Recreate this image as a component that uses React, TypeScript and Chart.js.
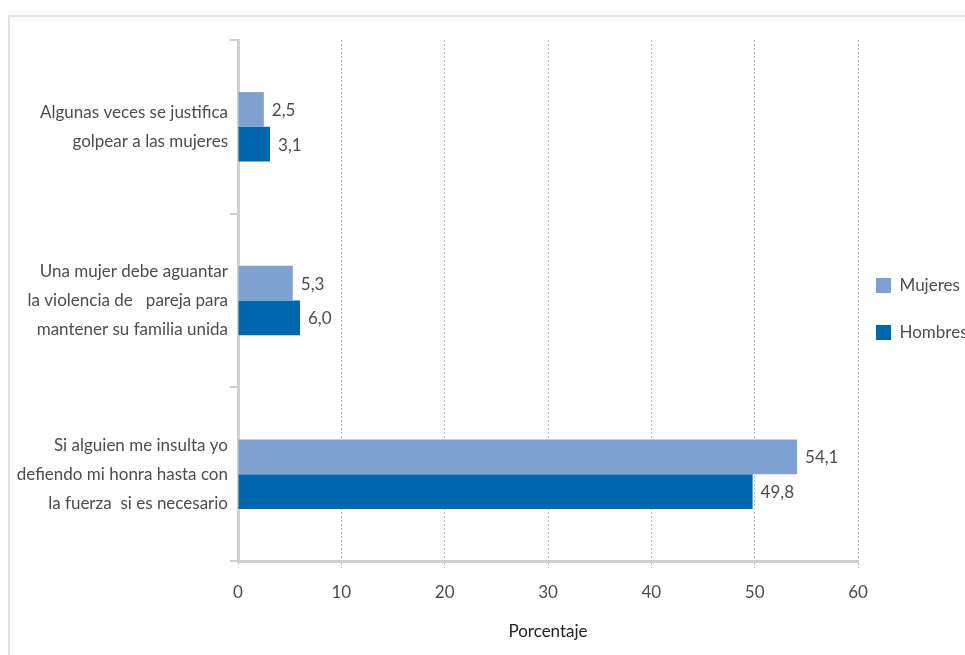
import React, { useEffect, useRef } from "react";
import { Chart, registerables } from "chart.js";

Chart.register(...registerables);

const categories: string[][] = [
  ["Algunas veces se justifica", "golpear a las mujeres"],
  ["Una mujer debe aguantar", "la violencia de   pareja para", "mantener su familia unida"],
  ["Si alguien me insulta yo", "defiendo mi honra hasta con", "la fuerza  si es necesario"],
];
const seriesNames = ["Mujeres", "Hombres"];
const mujeres = [2.5, 5.3, 54.1];
const hombres = [3.1, 6.0, 49.8];
const xTicks = [0, 10, 20, 30, 40, 50, 60];
const axisTitle = "Porcentaje";

const TEXT = "#4d4d4d";

const FONT_CANDIDATES = [
  { family: '"Liberation Sans Narrow"', weight: "normal" },
  { family: '"DejaVu Sans Condensed"', weight: "normal" },
  { family: '"DejaVu Sans"', weight: "condensed" },
  { family: '"Noto Sans"', weight: "condensed" },
  { family: "Roboto", weight: "normal" },
  { family: '"Noto Sans"', weight: "normal" },
  { family: "Lato", weight: "normal" },
];

// pick the narrowest available face and a size that gives the reference text width
function pickFont() {
  const ctx = document.createElement("canvas").getContext("2d") as CanvasRenderingContext2D;
  const sample = "Algunas veces se justifica";
  let best = { family: "sans-serif", weight: "normal", size: 16 };
  for (const c of FONT_CANDIDATES) {
    ctx.font = `${c.weight} 100px ${c.family}, sans-serif`;
    const w = ctx.measureText(sample).width;
    const size = Math.min(21, (186 / w) * 100);
    if (size > best.size) best = { family: `${c.family}, sans-serif`, weight: c.weight, size };
  }
  best.size = Math.round(best.size * 2) / 2;
  return best;
}

const fmt = (v: number) => v.toFixed(1).replace(".", ",");

export default function App() {
  const ref = useRef<HTMLCanvasElement>(null);
  useEffect(() => {
    document.body.style.margin = "0";
    const F = pickFont();
    const font = (extra: any = {}) => ({ family: F.family, weight: F.weight, size: F.size, ...extra });

    const valueLabels = {
      id: "valueLabels",
      afterDatasetsDraw(chart: any) {
        const ctx = chart.ctx;
        ctx.save();
        ctx.font = `${F.weight} ${F.size}px ${F.family}`;
        ctx.fillStyle = TEXT;
        ctx.textBaseline = "middle";
        ctx.textAlign = "left";
        chart.data.datasets.forEach((ds: any, di: number) => {
          chart.getDatasetMeta(di).data.forEach((el: any, i: number) => {
            ctx.fillText(fmt(ds.data[i]), el.x + 8, el.y + 1);
          });
        });
        ctx.restore();
      },
    };

    const chart = new Chart(ref.current as HTMLCanvasElement, {
      type: "bar",
      data: {
        labels: categories,
        datasets: [
          {
            label: seriesNames[0],
            data: mujeres,
            backgroundColor: "#7fa1cf",
            borderWidth: 0,
            categoryPercentage: 0.4,
            barPercentage: 1,
          },
          {
            label: seriesNames[1],
            data: hombres,
            backgroundColor: "#0067ac",
            borderWidth: 0,
            categoryPercentage: 0.4,
            barPercentage: 1,
          },
        ],
      },
      options: {
        indexAxis: "y",
        responsive: false,
        animation: false,
        layout: { padding: { top: 23, left: 0, right: 0, bottom: 0 } },
        scales: {
          x: {
            min: 0,
            max: 60,
            afterBuildTicks: (s: any) => {
              s.ticks = xTicks.map((v) => ({ value: v }));
            },
            afterFit: (s: any) => {
              s.height = 94;
            },
            ticks: { font: font(), color: TEXT, padding: 14 },
            grid: {
              color: (c: any) => (c.index === 0 ? "rgba(0,0,0,0)" : "#b8b8b8"),
              lineWidth: 1,
              drawTicks: true,
              tickLength: 7,
              tickColor: (c: any) => (c.index === 0 ? "#d0d0d0" : "#b8b8b8"),
              tickBorderDash: [2, 2],
            },
            border: { display: true, color: "#d0d0d0", width: 3, dash: [2, 2] },
            title: {
              display: true,
              text: axisTitle,
              font: font(),
              color: "#222",
              padding: { top: 0, bottom: 13 },
            },
          },
          y: {
            afterFit: (s: any) => {
              s.width = 228;
              s.paddingTop = 0;
              s.paddingBottom = 0;
            },
            grid: {
              offset: true,
              drawOnChartArea: false,
              drawTicks: true,
              tickLength: 8,
              color: "#d0d0d0",
              lineWidth: 2,
            },
            border: { display: true, color: "#d0d0d0", width: 3 },
            ticks: { font: font({ lineHeight: "29px" }), color: TEXT, padding: 2 },
          },
        },
        plugins: {
          legend: {
            position: "right",
            fullSize: false,
            maxWidth: 107,
            title: { display: true, text: " ", font: { size: 10, lineHeight: 1.2 }, padding: { top: 1, bottom: 16 } },
            labels: {
              boxWidth: 15,
              boxHeight: 15,
              padding: 18,
              font: font({ lineHeight: "29px" }),
              color: TEXT,
              generateLabels: (c: any) =>
                Chart.defaults.plugins.legend.labels
                  .generateLabels(c)
                  .map((l: any) => ({ ...l, text: [l.text] })),
            },
          },
          tooltip: { enabled: false },
        },
      },
      plugins: [valueLabels],
    } as any);
    return () => chart.destroy();
  }, []);

  return (
    <div style={{ paddingTop: 15, paddingLeft: 8, width: 957, height: 640, overflow: "hidden" }}>
      <div
        style={{
          borderTop: "2px solid #e3e3e3",
          borderLeft: "2px solid #e3e3e3",
          width: 955,
          height: 638,
        }}
      >
        <canvas ref={ref} width={955} height={638} style={{ display: "block" }} />
      </div>
    </div>
  );
}
